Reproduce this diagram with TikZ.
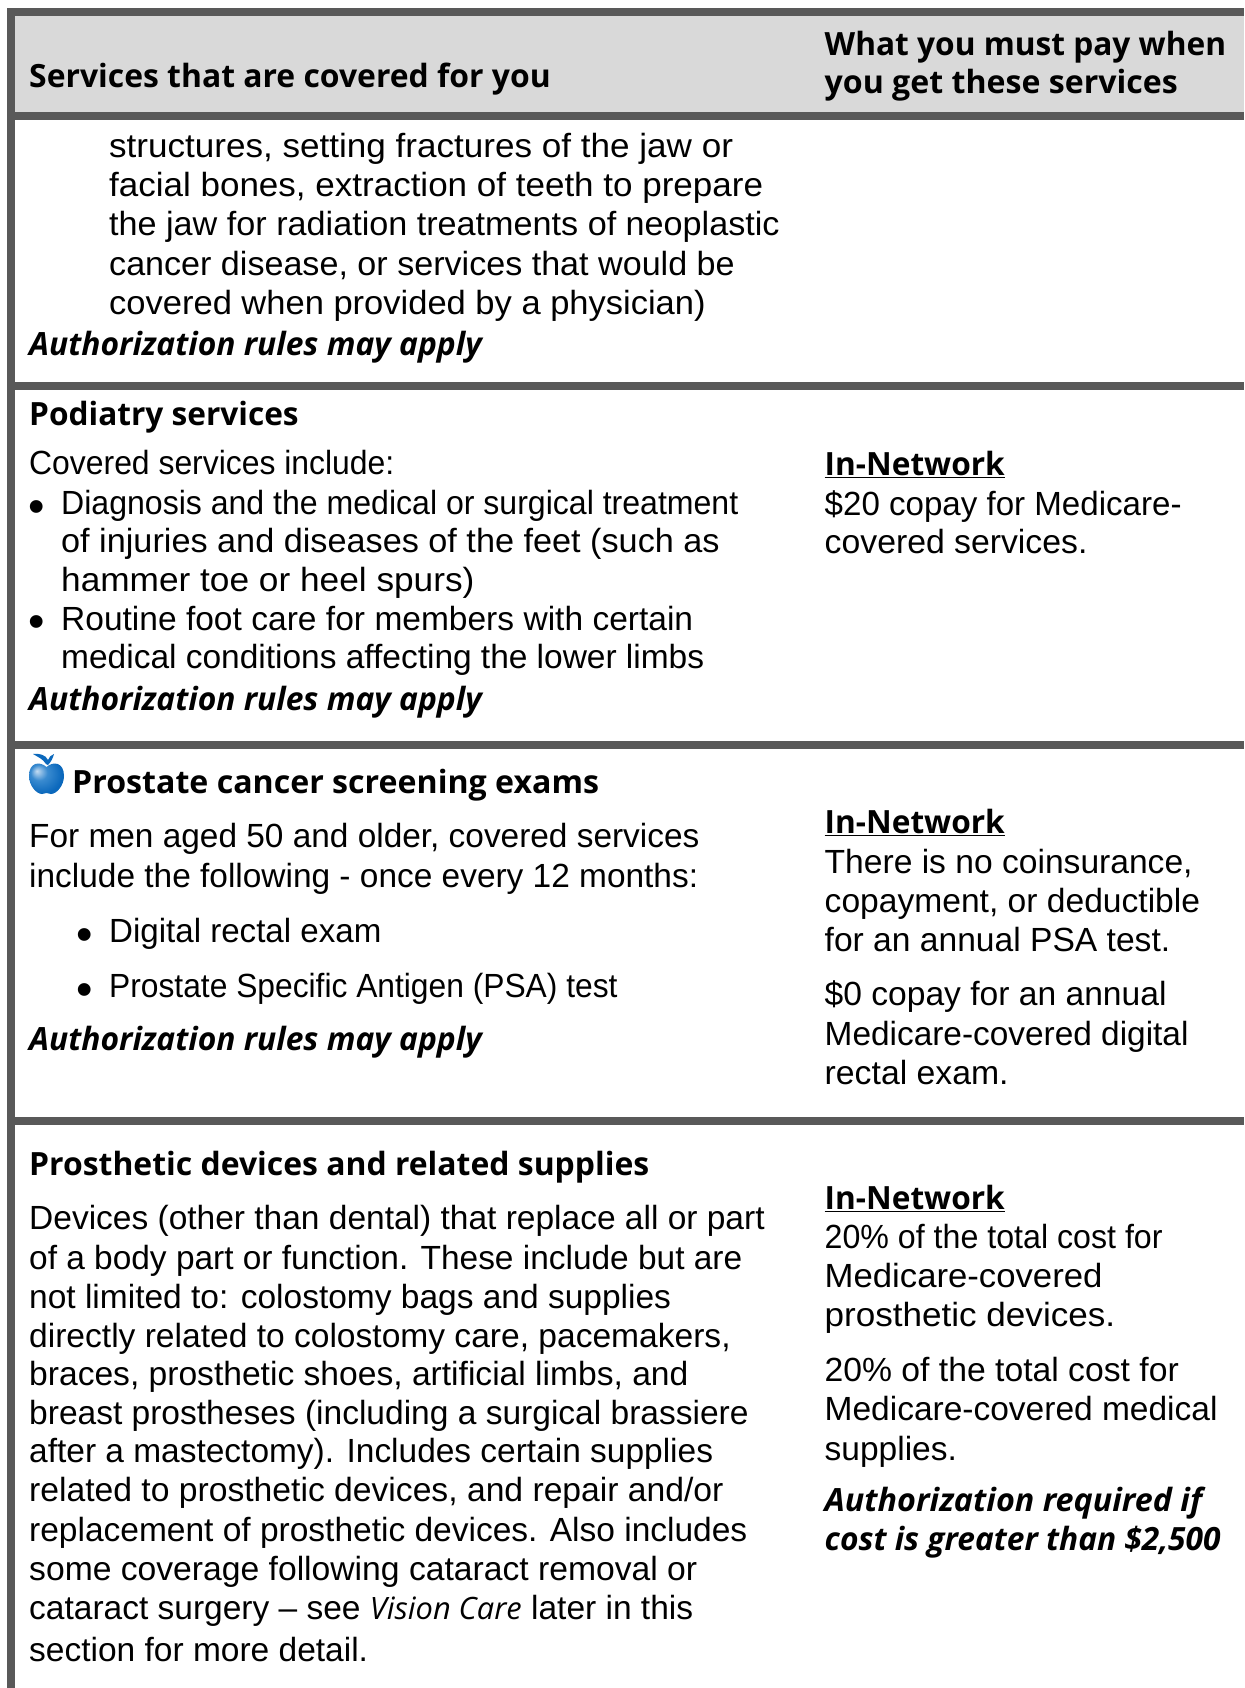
\documentclass[tikz,border=0pt]{standalone}
\usepackage{graphicx}
\usepackage{fontspec}
\setmainfont{Liberation Sans}
\newfontfamily\opensans{Open Sans}
\newcommand\sx[2]{\scalebox{#1}[1]{#2}}
\tikzset{
 x=1pt,y=-1pt,
 bartile/.style={fill=barcol,draw=none},
 body/.style={anchor=base west,inner sep=0pt,font=\fontsize{33.5}{39}\selectfont,text=black},
 head/.style={anchor=base west,inner sep=0pt,font=\fontsize{32}{38}\selectfont\opensans\bfseries,text=black},
 auth/.style={anchor=base west,inner sep=0pt,font=\fontsize{32}{38}\selectfont\opensans\bfseries\itshape,text=black},
 dot/.style={body},
}
\definecolor{barcol}{HTML}{595959}
\definecolor{headcol}{HTML}{D9D9D9}
\definecolor{appleD}{HTML}{0B68BC}
\definecolor{appleM}{HTML}{3A8BD0}
\definecolor{appleL}{HTML}{C4DCF2}
\pgfdeclareradialshading{applesh}{\pgfpoint{-14bp}{10bp}}{color(0bp)=(appleL); color(12bp)=(appleM); color(28bp)=(appleD); color(50bp)=(appleD)}
\begin{document}
\begin{tikzpicture}
\useasboundingbox (0,0) rectangle (1244,1688);
\fill[white] (0,0) rectangle (1244,1688);
\fill[headcol] (15,16) rectangle (1244,112);
\fill[bartile] (7,8) rectangle (1244,16);
\fill[bartile] (7,8) rectangle (15,1688);
\fill[bartile] (7,112) rectangle (1244,120);
\fill[bartile] (7,382) rectangle (1244,390);
\fill[bartile] (7,741) rectangle (1244,749);
\fill[bartile] (7,1117) rectangle (1244,1125);
% header
\node[head] (h1) at (29,88) {\sx{.996}{Services that are covered for you}};
\node[head] (h2) at (824.5,56) {\sx{.989}{What you must pay when}};
\node[head] (h3) at (824.5,94) {\sx{1.003}{you get these services}};
% row 1
\node[body] (a1) at (109,158) {\sx{1.047}{structures, setting fractures of the jaw or}};
\node[body] (a2) at (109,197) {\sx{1.045}{facial bones, extraction of teeth to prepare}};
\node[body] (a3) at (109,236) {\sx{1.02}{the jaw for radiation treatments of neoplastic}};
\node[body] (a4) at (109,276) {\sx{1.018}{cancer disease, or services that would be}};
\node[body] (a5) at (109,314) {\sx{1.03}{covered when provided by a physician)}};
\node[auth] (a6) at (29,355) {\sx{.993}{Authorization rules may apply}};
% row 2
\node[head] (b0) at (29,425) {\sx{.988}{Podiatry services}};
\node[body] (b1) at (29,474) {\sx{.952}{Covered services include:}};
\node[dot] (b2b) at (28,522) {\scalebox{1.4}{•}};
\node[body] (b2) at (61,514) {\sx{.957}{Diagnosis and the medical or surgical treatment}};
\node[body] (b3) at (61,552) {\sx{1.022}{of injuries and diseases of the feet (such as}};
\node[body] (b4) at (61,591) {\sx{1.052}{hammer toe or heel spurs)}};
\node[dot] (b5b) at (28,637.5) {\scalebox{1.4}{•}};
\node[body] (b5) at (61,630) {\makebox[632pt][s]{Routine foot care for members with certain}};
\node[body] (b6) at (61,668) {\makebox[643pt][s]{medical conditions affecting the lower limbs}};
\node[auth] (b7) at (29,710) {\sx{.993}{Authorization rules may apply}};
\node[head] (b8) at (824.5,475) {\underline{\sx{.988}{In-Network}}};
\node[body] (b9) at (824.5,515) {\sx{.988}{\$20 copay for Medicare-}};
\node[body] (b10) at (824.5,553) {\sx{1.008}{covered services.}};
% row 3 apple
\fill[appleD] (46,764) .. controls (43,759) and (38,757) .. (33,754) .. controls (39,753) and (46,755) .. (48,760) .. controls (49,757) and (51,755) .. (54,754) .. controls (53,758) and (51,762) .. (48,765) -- cycle;
\shade[shading=applesh]
 (46.5,767) .. controls (40,761) and (29,762) .. (29,776) .. controls (29,785) and (36,794) .. (42,794) .. controls (44,794) and (45,793) .. (46.5,793) .. controls (48,793) and (49,794) .. (51,794) .. controls (57,794) and (64,785) .. (64,776) .. controls (64,762) and (53,761) .. (46.5,767) -- cycle;
\node[head] (c0) at (72,793) {\sx{1.004}{Prostate cancer screening exams}};
\node[body] (c1) at (29,847) {\sx{.997}{For men aged 50 and older, covered services}};
\node[body] (c2) at (29,887) {\sx{.998}{include the following - once every 12 months:}};
\node[dot] (c3b) at (76,950) {\scalebox{1.4}{•}};
\node[body] (c3) at (109,942) {\sx{.988}{Digital rectal exam}};
\node[dot] (c4b) at (76,1005) {\scalebox{1.4}{•}};
\node[body] (c4) at (109,997) {\sx{.948}{Prostate Specific Antigen (PSA) test}};
\node[auth] (c5) at (29,1050) {\sx{.993}{Authorization rules may apply}};
\node[head] (c6) at (824.5,833) {\underline{\sx{.988}{In-Network}}};
\node[body] (c7) at (824.5,873) {\sx{1.003}{There is no coinsurance,}};
\node[body] (c8) at (824.5,912) {\sx{1.003}{copayment, or deductible}};
\node[body] (c9) at (824.5,951) {\sx{1.003}{for an annual PSA test.}};
\node[body] (c10) at (824.5,1005) {\sx{1.003}{\$0 copay for an annual}};
\node[body] (c11) at (824.5,1045) {\sx{.997}{Medicare-covered digital}};
\node[body] (c12) at (824.5,1084) {\sx{1.008}{rectal exam.}};
% row 4
\node[head] (d0) at (29,1175) {\sx{.997}{Prosthetic devices and related supplies}};
\node[body] (d1) at (29,1229) {Devices (other than dental) that replace all or part};
\node[body] (d2) at (29,1269) {\sx{.998}{of a body part or function. These include but are}};
\node[body] (d3) at (29,1308) {not limited to: colostomy bags and supplies};
\node[body] (d4) at (29,1347) {\sx{1.002}{directly related to colostomy care, pacemakers,}};
\node[body] (d5) at (29,1385) {\sx{1.003}{braces, prosthetic shoes, artificial limbs, and}};
\node[body] (d6) at (29,1424) {\sx{1.001}{breast prostheses (including a surgical brassiere}};
\node[body] (d7) at (29,1462) {\sx{.999}{after a mastectomy). Includes certain supplies}};
\node[body] (d8) at (29,1501) {\sx{1.005}{related to prosthetic devices, and repair and/or}};
\node[body] (d9) at (29,1541) {replacement of prosthetic devices. Also includes};
\node[body] (d10) at (29,1580) {\sx{1.005}{some coverage following cataract removal or}};
\node[body] (d11) at (29,1619) {cataract surgery – see {\opensans\itshape\fontsize{30.8}{34}\selectfont Vision Care} later in this};
\node[body] (d12) at (29,1661) {section for more detail.};
\node[head] (d13) at (824.5,1209) {\underline{\sx{.988}{In-Network}}};
\node[body] (d14) at (824.5,1248) {\sx{.96}{20\% of the total cost for}};
\node[body] (d15) at (824.5,1287) {\sx{1.036}{Medicare-covered}};
\node[body] (d16) at (824.5,1326) {\sx{1.047}{prosthetic devices.}};
\node[body] (d17) at (824.5,1381) {\sx{1.006}{20\% of the total cost for}};
\node[body] (d18) at (824.5,1420) {Medicare-covered medical};
\node[body] (d19) at (824.5,1460) {supplies.};
\node[auth] (d20) at (824.5,1511) {\sx{1.009}{Authorization required if}};
\node[auth] (d21) at (824.5,1550) {\sx{.991}{cost is greater than \$2,500}};
\end{tikzpicture}
\end{document}
